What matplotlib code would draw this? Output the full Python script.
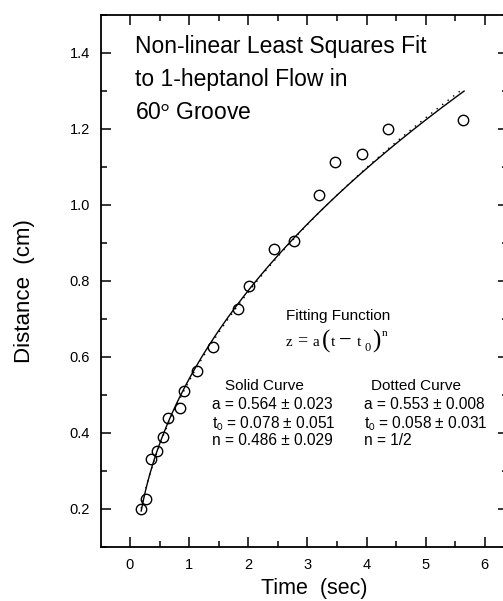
import matplotlib
matplotlib.use("Agg")
from matplotlib import pyplot as plt
from matplotlib.ticker import MultipleLocator
import numpy as np

plt.rcParams['font.family'] = ['Liberation Sans', 'DejaVu Sans']

# measured points
time = [0.19, 0.27, 0.35, 0.45, 0.56, 0.64, 0.84, 0.92, 1.13, 1.40, 1.82, 2.02,
        2.43, 2.77, 3.19, 3.46, 3.92, 4.37, 5.63]
distance = [0.200, 0.226, 0.332, 0.353, 0.390, 0.439, 0.465, 0.510, 0.563, 0.627,
            0.725, 0.787, 0.883, 0.905, 1.026, 1.114, 1.133, 1.199, 1.224]

# fit parameters z = a (t - t0)^n
solid_a, solid_t0, solid_n = 0.564, 0.078, 0.486
dotted_a, dotted_t0, dotted_n = 0.553, 0.058, 0.5
t_start, t_end = 0.19, 5.65

t = np.linspace(t_start, t_end, 300)
z_solid = solid_a * (t - solid_t0) ** solid_n
z_dotted = dotted_a * (t - dotted_t0) ** dotted_n

fig = plt.figure(figsize=(5.03, 6.01), dpi=100)
ax = fig.add_axes([0.2008, 0.0899, 0.81, 0.8852])

ax.plot(t, z_dotted, color='k', lw=1.0, ls=(0, (1, 4)))
ax.plot(t, z_solid, color='k', lw=1.0)
ax.plot(time, distance, 'o', mfc='none', mec='k', ms=7.5, mew=1.0)

ax.set_xlim(-0.49, 6.40)
ax.set_ylim(0.1, 1.5)
ax.xaxis.set_major_locator(MultipleLocator(1))
ax.xaxis.set_minor_locator(MultipleLocator(0.5))
ax.yaxis.set_major_locator(MultipleLocator(0.2))
ax.yaxis.set_minor_locator(MultipleLocator(0.1))
ax.set_xticks(range(0, 7))
ax.set_xticklabels(['0', '1', '2', '3', '4', '5', '6'])
ax.set_yticks([0.2, 0.4, 0.6, 0.8, 1.0, 1.2, 1.4])
ax.set_yticklabels(['0.2', '0.4', '0.6', '0.8', '1.0', '1.2', '1.4'])
ax.tick_params(which='both', direction='in', top=True, right=True, labelsize=10.5, pad=8)
ax.tick_params(which='major', length=7, width=1.1)
ax.tick_params(which='minor', length=4, width=1.1)
for s in ax.spines.values():
    s.set_linewidth(1.3)

ax.set_xlabel('Time  (sec)', fontsize=15.5)
ax.xaxis.set_label_coords(0.524, -0.059)
ax.set_ylabel('Distance  (cm)', fontsize=16)
ax.yaxis.set_label_coords(-0.162, 0.481)

ax.text(0.085, 1.448, 'Non-linear Least Squares Fit\nto 1-heptanol Flow in\n60$^{\\mathrm{o}}$ Groove',
        fontsize=16.5, ha='left', va='top', linespacing=1.55, math_fontfamily='stixsans')

ax.text(2.64, 0.708, 'Fitting Function', fontsize=11, ha='left', va='center')

# z = a(t - t0)^n, built from pieces so the brackets can be taller
formula = [('z', 0, 0, 11), ('=', 12, 0, 13), ('a', 27, 0, 11), ('(', 36, -2, 18),
           ('t', 45, 0, 11), ('\u2212', 53, 0, 16), ('t', 71, 0, 11), ('0', 79, -5, 9),
           (')', 87, -2, 18), ('n', 96, 10, 8)]
for s, dx, dy, fs in formula:
    ax.annotate(s, xy=(2.63, 0.63), xytext=(dx, dy), textcoords='offset pixels',
                fontsize=fs, family='Liberation Serif', ha='left', va='baseline')

ax.text(1.61, 0.524, 'Solid Curve', fontsize=11, ha='left', va='center')
ax.text(4.07, 0.524, 'Dotted Curve', fontsize=11, ha='left', va='center')

col1 = ['a = %.3f ± 0.023' % solid_a, 't$_0$ = %.3f ± 0.051' % solid_t0, 'n = %.3f ± 0.029' % solid_n]
col2 = ['a = %.3f ± 0.008' % dotted_a, 't$_0$ = %.3f ± 0.031' % dotted_t0, 'n = 1/2']
rows_y = [0.476, 0.424, 0.379]
for y, s1, s2 in zip(rows_y, col1, col2):
    ax.text(1.39, y, s1, fontsize=11.2, ha='left', va='center', math_fontfamily='stixsans')
    ax.text(3.95, y, s2, fontsize=11.2, ha='left', va='center', math_fontfamily='stixsans')

fig.savefig('out.png', dpi=100)
